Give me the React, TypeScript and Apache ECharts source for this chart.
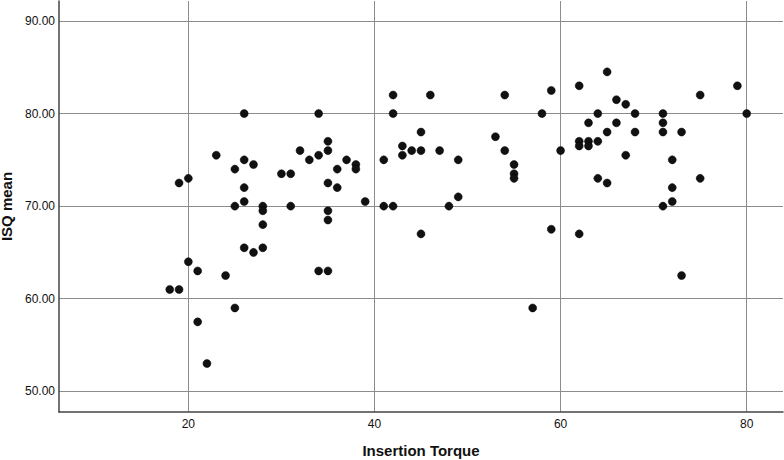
import React, { useEffect, useRef } from "react";
import * as echarts from "echarts";

const torque: number[] = [
  18, 19, 19, 20, 20, 21, 21, 22, 23, 24,
  25, 25, 25, 26, 26, 26, 26, 26, 27, 27,
  28, 28, 28, 28, 30, 31, 31, 32, 33, 34,
  34, 34, 35, 35, 35, 35, 35, 35, 36, 36,
  37, 38, 38, 39, 41, 41, 42, 42, 42, 43,
  43, 44, 45, 45, 45, 46, 47, 48, 49, 49,
  53, 54, 54, 55, 55, 55, 57, 58, 59, 59,
  60, 62, 62, 62, 62, 63, 63, 63, 64, 64,
  64, 65, 65, 65, 66, 66, 67, 67, 68, 68,
  71, 71, 71, 71, 72, 72, 72, 73, 73, 75,
  75, 79, 80,
];

const isqMean: number[] = [
  61, 72.5, 61, 73, 64, 63, 57.5, 53, 75.5, 62.5,
  74, 70, 59, 80, 75, 72, 70.5, 65.5, 74.5, 65,
  70, 69.5, 68, 65.5, 73.5, 73.5, 70, 76, 75, 80,
  75.5, 63, 77, 76, 72.5, 69.5, 68.5, 63, 74, 72,
  75, 74.5, 74, 70.5, 75, 70, 82, 80, 70, 76.5,
  75.5, 76, 78, 76, 67, 82, 76, 70, 75, 71,
  77.5, 82, 76, 74.5, 73.5, 73, 59, 80, 82.5, 67.5,
  76, 83, 77, 76.5, 67, 79, 77, 76.5, 80, 77,
  73, 84.5, 78, 72.5, 81.5, 79, 81, 75.5, 80, 78,
  80, 79, 78, 70, 75, 72, 70.5, 78, 62.5, 82,
  73, 83, 80,
];

const xTicks: number[] = [20, 40, 60, 80];
const yTicks: number[] = [50, 60, 70, 80, 90];

export default function App() {
  const ref = useRef<HTMLDivElement>(null);

  useEffect(() => {
    document.body.style.margin = "0";
    if (!ref.current) return;
    const chart = echarts.init(ref.current, undefined, { renderer: "svg" });
    const data = torque.map((t, i) => [t, isqMean[i]]);
    const labelFont = {
      fontFamily: "Liberation Sans, Arial, sans-serif",
      fontSize: 12,
      color: "#111",
    };
    const titleFont = {
      fontFamily: "Liberation Sans, Arial, sans-serif",
      fontSize: 15,
      fontWeight: "bold",
      color: "#111",
    };
    chart.setOption({
      animation: false,
      backgroundColor: "#ffffff",
      grid: {
        left: 59,
        right: 1,
        top: 1,
        bottom: 48,
        containLabel: false,
        outerBoundsMode: "none",
      },
      xAxis: {
        type: "value",
        min: 6.1,
        max: 83.9,
        name: "Insertion Torque",
        nameLocation: "middle",
        nameGap: 31,
        nameTextStyle: titleFont,
        axisLine: { show: true, lineStyle: { color: "#444", width: 1.5 } },
        axisTick: { show: false, customValues: xTicks },
        axisLabel: { ...labelFont, margin: 6, customValues: xTicks },
        splitLine: { show: true, lineStyle: { color: "#8c8c8c", width: 1 } },
      },
      yAxis: {
        type: "value",
        min: 47.76,
        max: 92.16,
        name: "ISQ mean",
        nameLocation: "middle",
        nameGap: 40,
        nameTextStyle: { ...titleFont, lineHeight: 15 },
        axisLine: { show: true, lineStyle: { color: "#444", width: 1.5 } },
        axisTick: { show: false, customValues: yTicks },
        axisLabel: {
          ...labelFont,
          margin: 4,
          customValues: yTicks,
          formatter: (v: number) => v.toFixed(2),
        },
        splitLine: { show: true, lineStyle: { color: "#8c8c8c", width: 1 } },
      },
      series: [
        {
          type: "scatter",
          data,
          symbol: "circle",
          symbolSize: 8,
          itemStyle: { color: "#111", opacity: 1, borderColor: "#000", borderWidth: 0.5 },
        },
      ],
    });
    return () => chart.dispose();
  }, []);

  return <div ref={ref} style={{ width: 784, height: 460 }} />;
}
